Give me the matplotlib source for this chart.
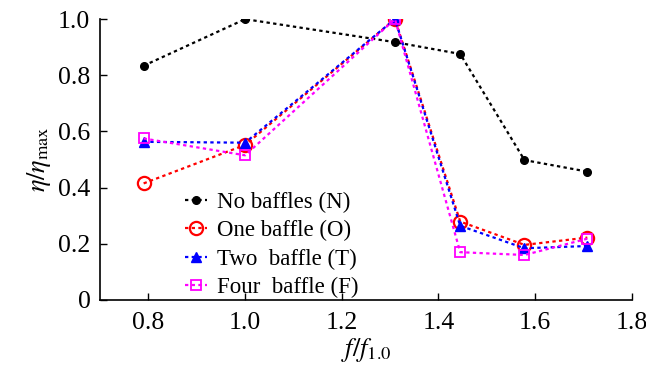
import numpy as np
import matplotlib.pyplot as plt

plt.rcParams['font.family'] = ['Liberation Serif', 'DejaVu Serif']
plt.rcParams['mathtext.fontset'] = 'stix'

# frequency ratio f/f1.0
f_ratio = [0.79, 1.0, 1.31, 1.445, 1.578, 1.708]

# normalised efficiency for each case
eta_none = [0.834, 1.0, 0.918, 0.876, 0.498, 0.457]
eta_one = [0.415, 0.552, 1.0, 0.279, 0.196, 0.222]
eta_two = [0.563, 0.560, 1.0, 0.264, 0.184, 0.192]
eta_four = [0.575, 0.515, 1.0, 0.170, 0.160, 0.218]

labels = ['No baffles (N)', 'One baffle (O)', 'Two  baffle (T)', 'Four  baffle (F)']

fig = plt.figure(figsize=(6.46, 3.68), dpi=100)
ax = fig.add_axes([0.155, 0.185, 0.823, 0.763])

dots = (0, (1.5, 1.5))
ax.plot(f_ratio, eta_none, color='black', ls=dots, lw=1.6, marker='o', ms=5.5,
        label=labels[0])
ax.plot(f_ratio, eta_one, color='red', ls=dots, lw=1.6, marker='o', ms=9.5,
        mfc='none', mew=1.6, label=labels[1])
ax.plot(f_ratio, eta_two, color='blue', ls=dots, lw=1.6, marker='^', ms=7,
        label=labels[2])
ax.plot(f_ratio, eta_four, color='magenta', ls=dots, lw=1.6, marker='s', ms=7,
        mfc='none', mew=1.3, label=labels[3])

ax.set_xlim(0.7, 1.8)
ax.set_ylim(0, 1.0)
ax.set_xticks([0.8, 1.0, 1.2, 1.4, 1.6, 1.8])
ax.set_xticklabels(['0.8', '1.0', '1.2', '1.4', '1.6', '1.8'])
ax.set_yticks([0, 0.2, 0.4, 0.6, 0.8, 1.0])
ax.set_yticklabels(['0', '0.2', '0.4', '0.6', '0.8', '1.0'])
ax.tick_params(direction='in', labelsize=18.5, length=5, width=1)
ax.tick_params(axis='x', pad=9)
ax.tick_params(axis='y', pad=7)
ax.spines['top'].set_visible(False)
ax.spines['right'].set_visible(False)
for s in ['left', 'bottom']:
    ax.spines[s].set_linewidth(1.2)

ax.set_xlabel(r'$f/f_{\mathrm{1.0}}$', fontsize=19, labelpad=1)
ax.set_ylabel(r'$\eta/\eta_{\mathrm{max}}$', fontsize=19, labelpad=4)

ax.legend(loc='lower left', bbox_to_anchor=(0.12, -0.068), frameon=False,
          fontsize=16.5, handlelength=1.0, handletextpad=0.4, labelspacing=0.32)

fig.savefig('out.png', dpi=100)
